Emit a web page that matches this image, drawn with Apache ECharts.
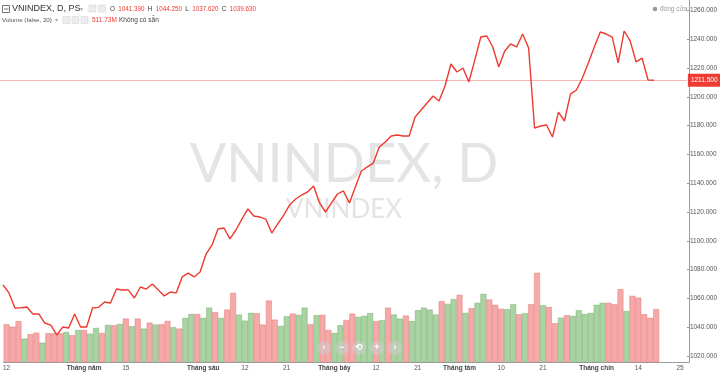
<!DOCTYPE html>
<html><head><meta charset="utf-8">
<script src="https://cdn.jsdelivr.net/npm/echarts/dist/echarts.min.js"></script>
<style>html,body{margin:0;padding:0;background:#fff}#c{width:720px;height:372px}</style>
</head><body><div id="c"></div>
<script>
// Trading days (2023), category axis
const dates = ['04-12','04-13','04-14','04-17','04-18','04-19','04-20','04-21','04-24','04-25','04-26','04-27','04-28',
'05-04','05-05','05-08','05-09','05-10','05-11','05-12','05-15','05-16','05-17','05-18','05-19','05-22','05-23','05-24','05-25','05-26','05-29','05-30','05-31',
'06-01','06-02','06-05','06-06','06-07','06-08','06-09','06-12','06-13','06-14','06-15','06-16','06-19','06-20','06-21','06-22','06-23','06-26','06-27','06-28','06-29','06-30',
'07-03','07-04','07-05','07-06','07-07','07-10','07-11','07-12','07-13','07-14','07-17','07-18','07-19','07-20','07-21','07-24','07-25','07-26','07-27','07-28','07-31',
'08-01','08-02','08-03','08-04','08-07','08-08','08-09','08-10','08-11','08-14','08-15','08-16','08-17','08-18','08-21','08-22','08-23','08-24','08-25','08-28','08-29','08-30','08-31',
'09-05','09-06','09-07','09-08','09-11','09-12','09-13','09-14','09-15','09-18','09-19','09-20','09-21','09-22','09-25','09-26'];

// Close values (VNINDEX)
const closes = [1069.3,1063.8,1053.3,1053.5,1054.0,1049.2,1049.2,1042.9,1041.5,1034.6,
1040.1,1039.4,1049.2,1040.1,1040.1,1053.3,1053.8,1057.5,1056.8,1066.5,
1065.8,1065.8,1060.3,1067.9,1066.5,1070.0,1065.8,1061.7,1064.4,1063.8,
1074.9,1077.6,1074.9,1078.3,1090.8,1097.1,1108.2,1108.9,1101.3,1107.5,
1115.1,1122.1,1117.2,1116.5,1115.1,1105.4,1111.7,1117.9,1124.9,1129.0,
1131.8,1133.9,1138.1,1126.3,1120.0,1126.3,1132.5,1134.6,1126.3,1137.4,
1148.5,1151.3,1154.0,1165.1,1168.6,1172.8,1173.5,1172.8,1172.8,1186.0,
1190.8,1195.7,1200.6,1197.1,1207.5,1222.8,1217.2,1220.0,1210.3,1225.6,
1241.5,1242.2,1234.6,1220.7,1231.8,1236.7,1234.6,1243.6,1233.9,1178.3,
1179.7,1180.4,1172.1,1189.4,1183.2,1201.9,1204.7,1213.1,1223.5,1234.6,
1245.0,1243.6,1241.5,1223.5,1245.7,1238.8,1224.2,1226.9,1211.7,1211.5];

// Volume (millions)
const volumes = [365,342,395,226,269,284,187,278,278,278,
291,259,310,310,274,330,281,359,356,368,
420,346,420,323,381,362,365,397,336,323,
427,465,465,427,526,482,427,507,669,459,
400,475,472,362,594,410,349,443,468,456,
526,365,453,456,310,281,356,407,468,436,
446,472,395,404,526,459,420,449,397,501,
526,507,459,588,562,608,650,475,521,572,
659,604,553,514,511,559,462,472,559,863,
550,533,375,429,453,446,501,465,475,553,
572,572,559,705,492,640,623,462,427,511.73];

// Volume bar direction: u = up (green), d = down (red)
const volDir = ['d','d','d','u','d','d','u','d','d','d',
'u','d','u','d','u','u','d','u','d','u',
'd','u','d','u','d','u','d','d','u','d',
'u','u','d','u','u','d','u','d','d','u',
'u','u','d','d','d','d','u','u','d','u',
'u','d','u','d','d','u','u','d','d','u',
'u','u','d','u','d','u','u','d','u','u',
'u','u','u','d','u','u','d','u','d','u',
'u','d','d','d','u','u','d','u','d','d',
'u','d','d','u','d','u','u','u','u','u',
'u','d','d','d','u','d','d','d','d','d'];

// X tick labels
const tickDates = ['04-12','05-04','05-15','06-01','06-12','06-21','07-03','07-12','07-21','08-01','08-10','08-21','09-05','09-14','09-25'];
const tickTexts = ['12','Tháng năm','15','Tháng sáu','12','21','Tháng bảy','12','21','Tháng tám','10','21','Tháng chín','14','25'];

// Header values
const ohlc = {O:'1041.390', H:'1044.250', L:'1037.620', C:'1039.630'};
const lastVolText = '511.73M';

const tickMap = {};
tickDates.forEach((d,i)=>{ tickMap[d] = tickTexts[i]; });

const RED_FILL = 'rgba(240,128,128,0.68)';
const RED_EDGE = 'rgba(228,110,110,0.75)';
const GRN_FILL = 'rgba(130,190,120,0.68)';
const GRN_EDGE = 'rgba(110,170,100,0.75)';

const volData = volumes.map((v,i)=>({
  value: v,
  itemStyle: {
    color: volDir[i]==='u' ? GRN_FILL : RED_FILL,
    borderColor: volDir[i]==='u' ? GRN_EDGE : RED_EDGE,
    borderWidth: 0.6
  }
}));

const last = closes[closes.length-1];
const FONT = '"Liberation Sans", Arial, sans-serif';

const navX = [324, 342, 359, 377, 395];
const navIcons = ['‹','−','⟲','+','›'];
const navGraphics = [];
navX.forEach((x,i)=>{
  navGraphics.push({type:'circle', shape:{cx:x, cy:348, r:7}, style:{fill:'rgba(205,205,205,0.55)'}, z:100});
  navGraphics.push({type:'text', x:x, y:348, style:{text:navIcons[i], fill:'#ffffff', font:'bold 9px '+FONT, textAlign:'center', textVerticalAlign:'middle'}, z:101});
});

const chart = echarts.init(document.getElementById('c'), null, {renderer:'canvas'});
chart.setOption({
  animation: false,
  backgroundColor: '#ffffff',
  grid: [
    {left:-1, width:690, top:10.4, height:345.6},
    {left:-1, width:690, top:0, height:362}
  ],
  xAxis: [
    {type:'category', gridIndex:0, data:dates, show:false, boundaryGap:true},
    {type:'category', gridIndex:1, data:dates, boundaryGap:true,
     axisLine:{show:true, lineStyle:{color:'#9b9b9b', width:1}},
     axisTick:{show:false},
     axisLabel:{
       interval:(idx, val)=> tickMap[val] !== undefined,
       formatter:(val)=>{
         const t = tickMap[val];
         if (t === undefined) return '';
         return t.indexOf('Tháng') === 0 ? '{m|'+t+'}' : '{n|'+t+'}';
       },
       margin:3,
       rich:{
         m:{fontSize:6.5, fontWeight:'bold', color:'#444', fontFamily:FONT},
         n:{fontSize:6.5, color:'#555', fontFamily:FONT}
       }
     }}
  ],
  yAxis: [
    {type:'value', gridIndex:0, position:'right', min:1020, max:1260, interval:20, scale:true,
     splitLine:{show:false}, axisLine:{show:false},
     axisTick:{show:true, length:3, lineStyle:{color:'#9b9b9b'}},
     axisLabel:{fontSize:6.5, color:'#555', margin:3, fontFamily:FONT, formatter:(v)=>v.toFixed(3)}},
    {type:'value', gridIndex:1, position:'right', min:0, max:3500,
     splitLine:{show:false},
     axisLine:{show:true, lineStyle:{color:'#9b9b9b', width:1}},
     axisTick:{show:false}, axisLabel:{show:false}}
  ],
  series: [
    {type:'bar', xAxisIndex:1, yAxisIndex:1, data:volData, barCategoryGap:'0%', barGap:'0%', z:1, silent:true},
    {type:'line', xAxisIndex:0, yAxisIndex:0, data:closes, symbol:'none', z:5, silent:true,
     lineStyle:{color:'#ee3a2e', width:1.4},
     markLine:{
       silent:true, symbol:['none','none'], animation:false,
       lineStyle:{color:'#f7b7b7', width:1, type:'solid'},
       label:{show:true, position:'end', distance:1, formatter: last.toFixed(3),
              backgroundColor:'#ee3b33', color:'#fff', fontSize:6.5, fontFamily:FONT, padding:[3,3,3,3]},
       data:[{yAxis:last}]
     }}
  ],
  graphic: [
    // watermark
    {type:'text', x:344, y:165, z:0, silent:true,
     style:{text:'VNINDEX, D', fill:'#e4e4e4', font:'54px Lato, "Open Sans", sans-serif', textAlign:'center', textVerticalAlign:'middle'}},
    {type:'text', x:344, y:210, z:0, silent:true,
     style:{text:'VNINDEX', fill:'#e4e4e4', font:'26px Lato, "Open Sans", sans-serif', textAlign:'center', textVerticalAlign:'middle'}},
    // header line 1
    {type:'rect', shape:{x:2.5, y:5.5, width:7, height:7}, style:{fill:'none', stroke:'#555', lineWidth:0.8}},
    {type:'line', shape:{x1:4, y1:9, x2:8.5, y2:9}, style:{stroke:'#555', lineWidth:0.8}},
    {type:'text', x:12, y:9, style:{text:'VNINDEX, D, PS', fill:'#333', font:'9px '+FONT, textVerticalAlign:'middle'}},
    {type:'text', x:80, y:9, style:{text:'▾', fill:'#aaa', font:'6px '+FONT, textVerticalAlign:'middle'}},
    {type:'rect', shape:{x:89, y:5, width:7, height:7}, style:{fill:'#ececec', stroke:'#d8d8d8', lineWidth:0.6}},
    {type:'rect', shape:{x:98.5, y:5, width:7, height:7}, style:{fill:'#ececec', stroke:'#d8d8d8', lineWidth:0.6}},
    {type:'text', x:110, y:9, style:{
      text:'{k|O} {v|'+ohlc.O+'} {k|H} {v|'+ohlc.H+'} {k|L} {v|'+ohlc.L+'} {k|C} {v|'+ohlc.C+'}',
      textVerticalAlign:'middle',
      rich:{k:{fill:'#333', fontSize:6.3, fontFamily:FONT}, v:{fill:'#ee3b33', fontSize:6.3, fontFamily:FONT}}
    }},
    // header line 2
    {type:'text', x:2, y:20, style:{text:'Volume (false, 20)', fill:'#555', font:'6.2px '+FONT, textVerticalAlign:'middle'}},
    {type:'text', x:55, y:20, style:{text:'▾', fill:'#aaa', font:'6px '+FONT, textVerticalAlign:'middle'}},
    {type:'rect', shape:{x:63, y:16.5, width:7, height:7}, style:{fill:'#ececec', stroke:'#d8d8d8', lineWidth:0.6}},
    {type:'rect', shape:{x:72, y:16.5, width:7, height:7}, style:{fill:'#ececec', stroke:'#d8d8d8', lineWidth:0.6}},
    {type:'rect', shape:{x:81, y:16.5, width:7, height:7}, style:{fill:'#ececec', stroke:'#d8d8d8', lineWidth:0.6}},
    {type:'text', x:92, y:20, style:{text:lastVolText, fill:'#ee3b33', font:'6.5px '+FONT, textVerticalAlign:'middle'}},
    {type:'text', x:119, y:20, style:{text:'Không có sẵn', fill:'#444', font:'6.5px '+FONT, textVerticalAlign:'middle'}},
    // top-right
    {type:'circle', shape:{cx:655, cy:9, r:2.3}, style:{fill:'#9a9a9a'}},
    {type:'text', x:660, y:9, style:{text:'đóng cửa', fill:'#9a9a9a', font:'6.5px '+FONT, textVerticalAlign:'middle'}}
  ].concat(navGraphics)
});
</script>
</body></html>
